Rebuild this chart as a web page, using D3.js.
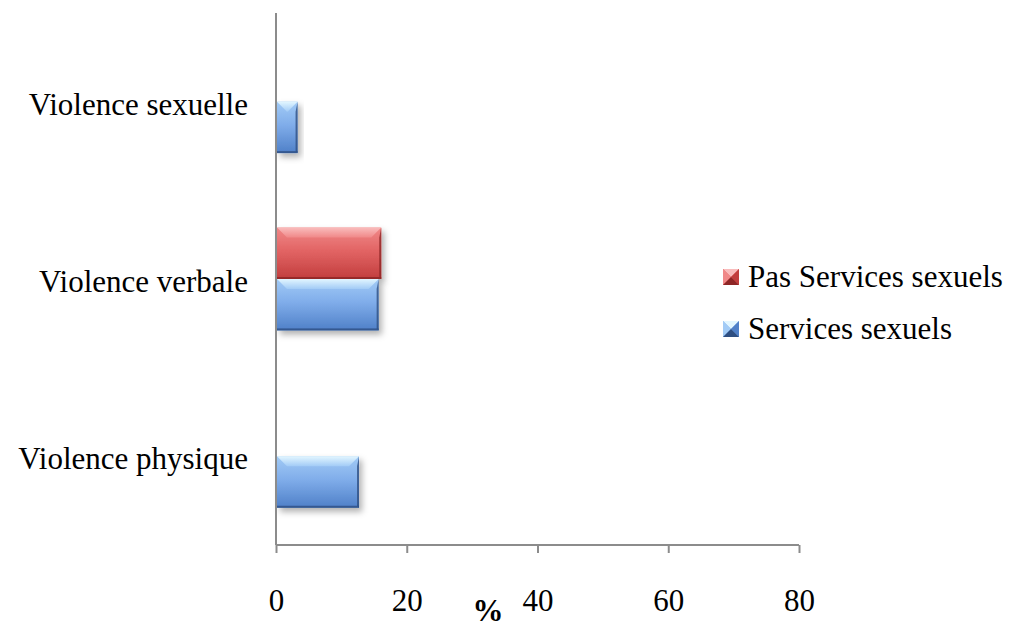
<!DOCTYPE html>
<html>
<head>
<meta charset="utf-8">
<script src="https://cdn.jsdelivr.net/npm/d3@7"></script>
<style>
  html, body { margin: 0; padding: 0; background: #fff; }
  svg { display: block; }
  svg text { font-family: "Liberation Serif", "Times New Roman", "DejaVu Serif", serif !important; fill: #000; }
</style>
</head>
<body>
<svg id="chart" width="1013" height="628"></svg>
<script>
// Categories from bottom to top, as stacked on the y axis
const categories = ["Violence physique", "Violence verbale", "Violence sexuelle"];
const seriesNames = ["Pas Services sexuels", "Services sexuels"];
// Percent values per category (null = no bar)
const pasServices = [null, 16.1, null];
const services = [12.7, 15.7, 3.3];
const xTicks = [0, 20, 40, 60, 80];

const serif = "'Liberation Serif', 'Times New Roman', 'DejaVu Serif', serif";
const svg = d3.select("#chart");
const plot = { left: 276, right: 799, top: 13, bottom: 545 };

const x = d3.scaleLinear().domain([0, 80]).range([plot.left, plot.right]);
const y = d3.scaleBand().domain(categories.slice().reverse()).range([plot.top, plot.bottom]).paddingInner(0.42).paddingOuter(0.21);
const ySeries = d3.scaleBand().domain(seriesNames).range([0, y.bandwidth()]);

const palette = {
  "Pas Services sexuels": { light: "#f9bcbc", top: "#f08888", mid: "#e26464", bottom: "#c23e3e", edge: "#8e2626" },
  "Services sexuels": { light: "#e2f6ff", top: "#a2cbf6", mid: "#80adea", bottom: "#4f80c8", edge: "#2e4f82" }
};

const defs = svg.append("defs");
const shadow = defs.append("filter").attr("id", "shadow").attr("x", "-20%").attr("y", "-20%").attr("width", "150%").attr("height", "160%");
shadow.append("feDropShadow").attr("dx", 3).attr("dy", 4).attr("stdDeviation", 3).attr("flood-color", "#000").attr("flood-opacity", 0.3);

seriesNames.forEach((name, i) => {
  const c = palette[name];
  const g = defs.append("linearGradient").attr("id", "face" + i).attr("x1", 0).attr("y1", 0).attr("x2", 0).attr("y2", 1);
  g.append("stop").attr("offset", "0%").attr("stop-color", c.top);
  g.append("stop").attr("offset", "45%").attr("stop-color", c.mid);
  g.append("stop").attr("offset", "100%").attr("stop-color", c.bottom);
  const t = defs.append("linearGradient").attr("id", "topbevel" + i).attr("x1", 0).attr("y1", 0).attr("x2", 0).attr("y2", 1);
  t.append("stop").attr("offset", "0%").attr("stop-color", c.light);
  t.append("stop").attr("offset", "100%").attr("stop-color", c.top);
});

// Bevelled bar: face + light top bevel + darker side/bottom edges
function bevelBar(parent, bx, by, bw, bh, idx) {
  const c = palette[seriesNames[idx]];
  const b = Math.min(10, bw / 2, bh / 3);
  const g = parent.append("g").attr("filter", "url(#shadow)");
  g.append("rect").attr("x", bx).attr("y", by).attr("width", bw).attr("height", bh).attr("fill", `url(#face${idx})`);
  g.append("polygon")
    .attr("points", [[bx, by], [bx + bw, by], [bx + bw - b, by + b], [bx + b, by + b]].map(p => p.join(",")).join(" "))
    .attr("fill", `url(#topbevel${idx})`);
  g.append("polygon")
    .attr("points", [[bx + bw, by], [bx + bw, by + bh], [bx + bw - 2, by + bh - 2], [bx + bw - 2, by + b]].map(p => p.join(",")).join(" "))
    .attr("fill", c.edge).attr("opacity", 0.8);
  g.append("rect").attr("x", bx).attr("y", by + bh - 2).attr("width", bw).attr("height", 2).attr("fill", c.edge).attr("opacity", 0.8);
}

const rows = [];
categories.forEach((cat, k) => {
  if (pasServices[k] != null) rows.push({ cat, s: 0, v: pasServices[k] });
  if (services[k] != null) rows.push({ cat, s: 1, v: services[k] });
});

const bars = svg.append("g");
rows.forEach(r => {
  const by = y(r.cat) + ySeries(seriesNames[r.s]);
  bevelBar(bars, x(0) + 1, by, x(r.v) - x(0) - 1, ySeries.bandwidth(), r.s);
});

// Axes
const axisColor = "#8c8c8c";
const xAxis = svg.append("g").attr("transform", `translate(0,${plot.bottom})`)
  .call(d3.axisBottom(x).tickValues(xTicks).tickSize(8).tickPadding(36));
xAxis.attr("font-family", serif);
xAxis.select(".domain").attr("stroke", axisColor).attr("stroke-width", 2).attr("d", `M${plot.left},0H${plot.right}`);
xAxis.selectAll(".tick line").attr("stroke", axisColor).attr("stroke-width", 2);
xAxis.selectAll(".tick text").style("font-family", serif).attr("font-size", 31).attr("fill", "#000");

const yAxis = svg.append("g").attr("transform", `translate(${plot.left},0)`)
  .call(d3.axisLeft(y).tickSize(0).tickPadding(28));
yAxis.attr("font-family", serif);
yAxis.select(".domain").attr("stroke", axisColor).attr("stroke-width", 2).attr("d", `M0,${plot.top}V${plot.bottom}`);
yAxis.selectAll(".tick text").style("font-family", serif).attr("font-size", 31).attr("fill", "#000").attr("dy", "0.42em");

// Axis title
svg.append("text").attr("x", 488).attr("y", 621).attr("text-anchor", "middle")
  .style("font-family", serif).attr("font-size", 31).attr("font-weight", "bold").text("%");

// Legend
const legendRows = [{ name: seriesNames[0], idx: 0, cy: 276 }, { name: seriesNames[1], idx: 1, cy: 328 }];
const legend = svg.append("g");
legendRows.forEach(r => {
  const c = palette[r.name];
  const s = 16, lx = 723, ly = r.cy - s / 2 + 1;
  const cx = lx + s / 2, cyy = ly + s / 2;
  legend.append("rect").attr("x", lx).attr("y", ly).attr("width", s).attr("height", s).attr("fill", c.mid);
  legend.append("polygon").attr("points", `${lx},${ly} ${lx + s},${ly} ${cx},${cyy}`).attr("fill", c.light);
  legend.append("polygon").attr("points", `${lx},${ly} ${lx},${ly + s} ${cx},${cyy}`).attr("fill", c.top);
  legend.append("polygon").attr("points", `${lx + s},${ly} ${lx + s},${ly + s} ${cx},${cyy}`).attr("fill", c.bottom);
  legend.append("polygon").attr("points", `${lx},${ly + s} ${lx + s},${ly + s} ${cx},${cyy}`).attr("fill", c.edge);
  legend.append("text").attr("x", 748).attr("y", r.cy).attr("dy", "0.35em").style("font-family", serif).attr("font-size", 31).text(r.name);
});
</script>
</body>
</html>
